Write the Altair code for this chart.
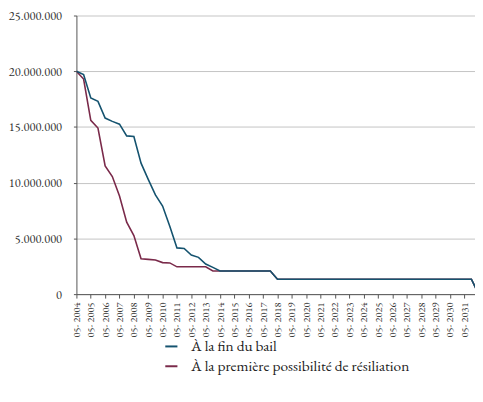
import altair as alt
import pandas as pd

periods = [2004 + i / 2 for i in range(57)]

fin_du_bail = [
    20.0, 19.7, 17.6, 17.3, 15.8, 15.5, 15.25, 14.2, 14.15, 11.75,
    10.3, 8.9, 7.9, 6.1, 4.15, 4.1, 3.5, 3.3, 2.7, 2.4,
    2.08, 2.08, 2.08, 2.08, 2.08, 2.08, 2.08, 2.08, 1.34, 1.34,
    1.34, 1.34, 1.34, 1.34, 1.34, 1.34, 1.34, 1.34, 1.34, 1.34,
    1.34, 1.34, 1.34, 1.34, 1.34, 1.34, 1.34, 1.34, 1.34, 1.34,
    1.34, 1.34, 1.34, 1.34, 1.34, 1.34, 0.0,
]
premiere_resiliation = [
    20.0, 19.3, 15.6, 14.9, 11.5, 10.55, 8.8, 6.45, 5.26, 3.18,
    3.12, 3.06, 2.83, 2.8, 2.45, 2.45, 2.45, 2.45, 2.45, 2.08,
    2.08, 2.08, 2.08, 2.08, 2.08, 2.08, 2.08, 2.08, 1.34, 1.34,
    1.34, 1.34, 1.34, 1.34, 1.34, 1.34, 1.34, 1.34, 1.34, 1.34,
    1.34, 1.34, 1.34, 1.34, 1.34, 1.34, 1.34, 1.34, 1.34, 1.34,
    1.34, 1.34, 1.34, 1.34, 1.34, 1.34, 0.0,
]
series_names = ["À la fin du bail", "À la première possibilité de résiliation"]
series_colors = ["#15536f", "#7a2a4a"]
x_ticks = list(range(2004, 2032))
y_ticks = [0, 5000000, 10000000, 15000000, 20000000, 25000000]

rows = []
for p, v in zip(periods, premiere_resiliation):
    rows.append({"t": p, "v": v * 1e6, "s": series_names[1], "o": 0})
for p, v in zip(periods, fin_du_bail):
    rows.append({"t": p, "v": v * 1e6, "s": series_names[0], "o": 1})
df = pd.DataFrame(rows)

FONT = "EB Garamond"

base = alt.Chart(df).encode(
    x=alt.X("t:Q",
            scale=alt.Scale(domain=[2004, 2031.75], nice=False, zero=False),
            axis=alt.Axis(values=x_ticks, labelExpr="'05- ' + datum.value",
                          labelAngle=270, labelAlign="right", labelBaseline="middle",
                          labelFontSize=10.5, labelPadding=4, tickSize=4,
                          grid=False, title=None, labelOverlap=False,
                          domainColor="#555555", tickColor="#555555",
                          labelColor="#333333", labelFont=FONT)),
    y=alt.Y("v:Q",
            scale=alt.Scale(domain=[0, 25000000], nice=False),
            axis=alt.Axis(values=y_ticks,
                          labelExpr="replace(format(datum.value, ',d'), /,/g, '.')",
                          labelFontSize=12.5, labelPadding=12, tickSize=3,
                          grid=True, gridColor="#c4c4c4", gridWidth=1,
                          title=None, domainColor="#555555", tickColor="#555555",
                          labelColor="#333333", labelFont=FONT)),
    color=alt.Color("s:N",
                    scale=alt.Scale(domain=series_names, range=series_colors),
                    legend=alt.Legend(title=None, orient="none", legendX=88, legendY=326,
                                      symbolType="stroke", symbolSize=150,
                                      symbolStrokeWidth=2, labelFontSize=15.5,
                                      labelFont=FONT, labelColor="#222222",
                                      labelOffset=12, rowPadding=3, labelLimit=400)),
    detail="s:N",
    order="t:Q",
)

lines = base.mark_line(strokeWidth=1.6, clip=True)
maroon = lines.transform_filter(alt.datum.o == 0)
blue = lines.transform_filter(alt.datum.o == 1)

chart = alt.layer(maroon, blue).properties(
    width=402, height=281,
    padding={"left": 0, "top": 0, "right": 0, "bottom": 0},
).configure(font=FONT).configure_view(stroke=None)

chart.save("out.html", embed_options={"renderer": "svg", "actions": False})
